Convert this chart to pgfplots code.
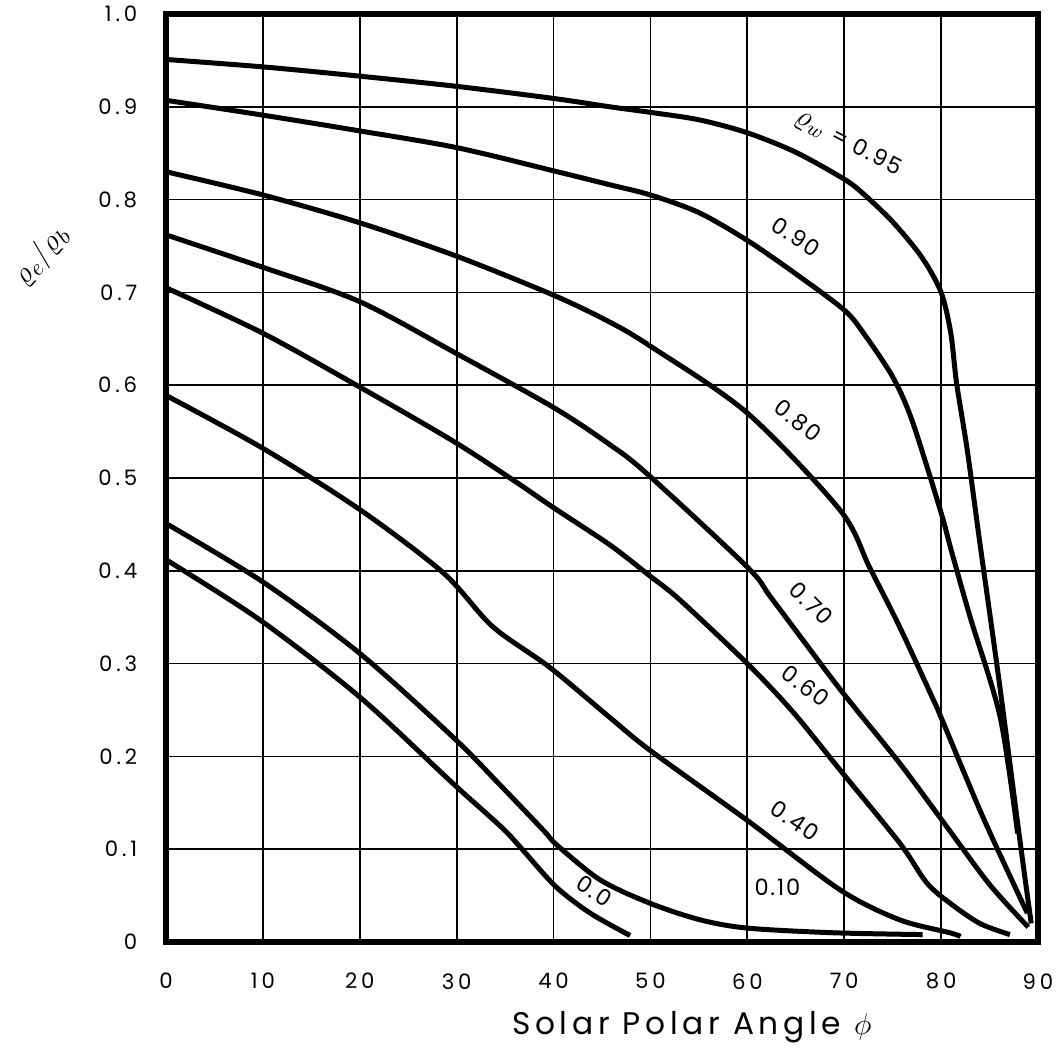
\documentclass[border=0pt]{standalone}
\usepackage{fontspec}
\setmainfont{Poppins}
\usepackage{pgfplots}
\pgfplotsset{compat=1.18}
\pgfplotsset{curve/.style={black, solid, line width=2pt, mark=none, smooth, tension=0.5}}
\begin{document}
\begin{tikzpicture}
\begin{axis}[
  scale only axis, width=348.8pt, height=371.2pt,
  xmin=0, xmax=90, ymin=0, ymax=1,
  xtick={0,10,20,30,40,50,60,70,80,90},
  xticklabels={0,10,20,30,40,50,60,70,80,90},
  ytick={0,0.1,0.2,0.3,0.4,0.5,0.6,0.7,0.8,0.9,1.0},
  yticklabels={0,0.1,0.2,0.3,0.4,0.5,0.6,0.7,0.8,0.9,1.0},
  grid=major, grid style={black, line width=0.7pt},
  axis line style={line width=2.2pt},
  major tick length=0pt,
  tick label style={font=\fontsize{8.5}{10}\selectfont\addfontfeatures{LetterSpace=18}},
  yticklabel style={xshift=-8pt},
  xticklabel style={yshift=-9pt},
  xlabel={\addfontfeatures{LetterSpace=15}Solar Polar Angle $\phi$},
  xlabel style={font=\fontsize{12.5}{14}\selectfont, at={(axis description cs:0.603,-0.092)}, anchor=center},
  ylabel={$\varrho_e/\varrho_b$},
  ylabel style={font=\fontsize{13}{15}\selectfont, at={(axis description cs:-0.143,0.74)}, anchor=center, rotate=-40},
  clip=false,
]
% rho_w = 0.95
\addplot[curve] coordinates {(0,0.951) (10,0.943) (20,0.933) (30,0.922) (40,0.909) (45.8,0.900) (50,0.894) (55,0.886) (60,0.872) (65,0.851) (70,0.822) (72,0.806) (75,0.776) (78,0.738) (80,0.700) (81,0.656) (81.6,0.602) (82.7,0.530) (84,0.430) (86,0.280) (88,0.120) (89.3,0.020)};
% 0.90
\addplot[curve] coordinates {(0,0.907) (10,0.891) (20,0.874) (30,0.856) (40,0.831) (45.8,0.816) (50,0.805) (55,0.786) (60,0.756) (65,0.720) (70,0.681) (72,0.656) (75,0.609) (77,0.562) (79.9,0.466) (81.1,0.420) (83,0.350) (86.1,0.242) (87.9,0.117)};
% 0.80
\addplot[curve] coordinates {(0,0.830) (10,0.805) (20,0.775) (30,0.739) (40,0.697) (45.8,0.668) (50,0.642) (60,0.570) (69.6,0.465) (72.6,0.404) (75.7,0.340) (79.2,0.261) (80,0.242) (84.3,0.135) (88.9,0.031)};
% 0.70
\addplot[curve] coordinates {(0,0.762) (10,0.727) (20,0.690) (30,0.634) (40,0.576) (45.8,0.536) (49.6,0.505) (60,0.404) (62.6,0.369) (69.6,0.272) (75.7,0.193) (80.6,0.124) (85,0.062) (89,0.016)};
% 0.60
\addplot[curve] coordinates {(0,0.705) (10,0.656) (20,0.598) (29.6,0.540) (35.8,0.498) (40,0.468) (45.8,0.428) (50,0.394) (53,0.369) (60,0.300) (64.7,0.248) (69.6,0.185) (75.7,0.107) (78.5,0.064) (80.9,0.042) (84,0.020) (87.1,0.008)};
% 0.40
\addplot[curve] coordinates {(0,0.589) (10,0.532) (20,0.466) (28.6,0.398) (33.7,0.340) (39.6,0.296) (45.8,0.242) (49.9,0.207) (60,0.131) (69.6,0.056) (75.7,0.024) (80.9,0.010) (82,0.006)};
% 0.10
\addplot[curve] coordinates {(0,0.451) (10,0.388) (20,0.311) (29.6,0.221) (34.5,0.169) (38.9,0.121) (40.4,0.104) (44.8,0.067) (49.9,0.042) (55.1,0.024) (60,0.015) (68.8,0.010) (78.1,0.008)};
% 0.0
\addplot[curve] coordinates {(0,0.412) (9.7,0.347) (20,0.264) (29.6,0.171) (34.6,0.124) (36.5,0.103) (40.2,0.060) (43.8,0.031) (47.9,0.007)};
\begin{scope}[every node/.style={font=\fontsize{9}{10}\selectfont\addfontfeatures{LetterSpace=8}, inner sep=0pt}]
\node[rotate=-27.5] at (axis cs:70.4,0.860) {{\fontsize{12}{12}\selectfont$\varrho_w$} = 0.95};
\node[rotate=-33] at (axis cs:65.0,0.760) {0.90};
\node[rotate=-38] at (axis cs:65.2,0.562) {0.80};
\node[rotate=-45] at (axis cs:66.6,0.365) {0.70};
\node[rotate=-37] at (axis cs:66.0,0.276) {0.60};
\node[rotate=-34] at (axis cs:64.9,0.131) {0.40};
\node at (axis cs:63.1,0.059) {0.10};
\node[rotate=-33] at (axis cs:44.2,0.055) {0.0};
\end{scope}
\end{axis}
\pgfresetboundingbox
\path (current axis.south west) ++(-66.4pt,-42.8pt) coordinate (bbl)
      (current axis.north east) ++(7.6pt,5.6pt) coordinate (bbr);
\path[use as bounding box] (bbl) rectangle (bbr);
\end{tikzpicture}
\end{document}
